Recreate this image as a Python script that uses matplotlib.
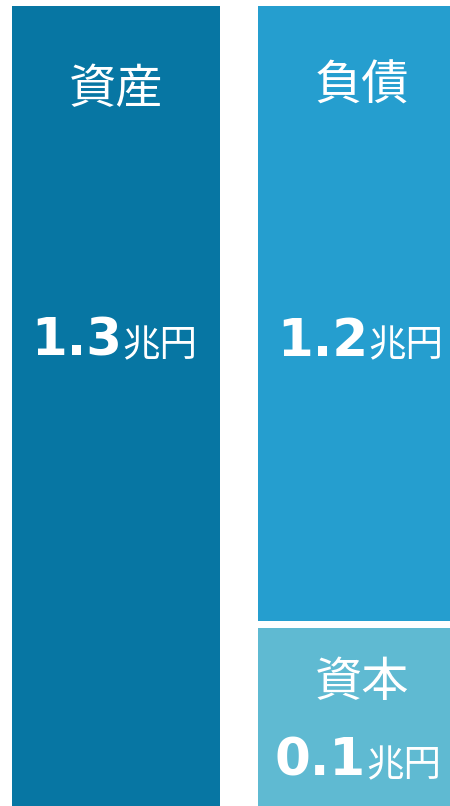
import matplotlib
matplotlib.use('Agg')
import matplotlib.pyplot as plt

# chart values
categories = ['資産', '負債', '資本']
amounts = ['1.3', '1.2', '0.1']
unit = '兆円'
# drawn heights (schematic, not to scale of the amounts)
asset_height = [1.3]
equity_height = [0.29]
liability_height = [1.0]

COL_ASSET = '#0776A3'
COL_LIAB = '#259ECF'
COL_EQUITY = '#5FBAD2'

CJK = ['Noto Sans CJK JP', 'DejaVu Sans']
NUM = ['DejaVu Sans']

W, H = 450, 806
BOTTOM_PX, TOP_PX = 806, 6


def py(ypix):
    # pixel row -> data y
    return (BOTTOM_PX - ypix) / (BOTTOM_PX - TOP_PX) * asset_height[0]


def amount_label(ax, x_split, ypix, number):
    ax.text(x_split, py(ypix), number, ha='right', va='baseline', color='white',
            fontsize=37, fontweight='bold', family=NUM)
    ax.text(x_split, py(ypix), unit, ha='left', va='baseline', color='white',
            fontsize=27, family=CJK)


def main():
    fig = plt.figure(figsize=(W / 100, H / 100), dpi=100)
    ax = fig.add_axes([0, 0, 1, 1])
    width = 208 / 246

    ax.bar([0], asset_height, width=width, color=COL_ASSET)
    ax.bar([1], equity_height, width=width, color=COL_EQUITY)
    ax.bar([1], liability_height, width=width, bottom=[0.3], color=COL_LIAB)

    ax.set_xlim(-116 / 246, (W - 116) / 246)
    ax.set_ylim(py(BOTTOM_PX), py(0))
    ax.axis('off')

    ax.text(0, py(90), categories[0], ha='center', va='center', color='white',
            fontsize=34, family=CJK)
    ax.text(1, py(86), categories[1], ha='center', va='center', color='white',
            fontsize=34, family=CJK)
    ax.text(1, py(683), categories[2], ha='center', va='center', color='white',
            fontsize=34, family=CJK)

    amount_label(ax, 6 / 246, 356, amounts[0])
    amount_label(ax, 1 + 6 / 246, 356, amounts[1])
    amount_label(ax, 1 + 4 / 246, 776, amounts[2])

    fig.savefig('out.png', dpi=100, facecolor='w')
    plt.close('all')


if __name__ == '__main__':
    main()
